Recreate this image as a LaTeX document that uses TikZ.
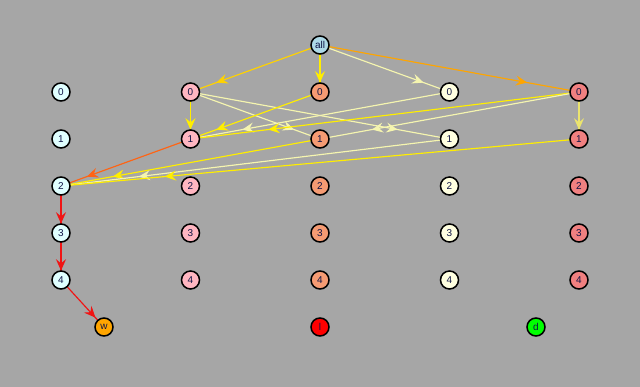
\documentclass[tikz,border=0pt]{standalone}
\usepackage{fontspec}
\setsansfont{Liberation Sans}
\usetikzlibrary{arrows.meta,decorations.markings,backgrounds}
\definecolor{bggray}{RGB}{166,166,166}
\definecolor{txtnavy}{RGB}{15,20,70}
\definecolor{cyanfill}{RGB}{224,255,255}
\definecolor{pinkfill}{RGB}{255,182,193}
\definecolor{salmonfill}{RGB}{245,155,115}
\definecolor{ivoryfill}{RGB}{255,255,224}
\definecolor{coralfill}{RGB}{240,128,128}
\definecolor{allfill}{RGB}{173,216,230}
\definecolor{winfill}{RGB}{255,165,0}
\definecolor{lossfill}{RGB}{255,0,0}
\definecolor{tiefill}{RGB}{0,255,0}
\definecolor{edgegold}{RGB}{255,210,0}
\definecolor{edgeyellow}{RGB}{255,238,0}
\definecolor{edgepale}{RGB}{245,245,175}
\definecolor{edgeorange}{RGB}{255,165,0}
\definecolor{edgekhaki}{RGB}{235,228,110}
\definecolor{edgeburnt}{RGB}{255,100,20}
\definecolor{edgered}{RGB}{240,20,20}
\tikzset{
  state/.style={circle, draw=black, line width=0.45mm, minimum size=5.4mm, inner sep=0pt,
    font=\sffamily\fontsize{8.5}{9}\selectfont, text=txtnavy},
  flow/.style={line width=0.35mm, postaction={decorate},
    decoration={markings, mark=at position 0.8 with {\arrow{Stealth[length=3.4mm,width=3mm,inset=1.2mm]}}}},
}
\newcommand{\flowln}[3]{%
  \draw[flow, #1] (#2.center) -- (#3.center);
}

\begin{document}
\begin{tikzpicture}[x=0.3mm, y=-0.3mm]
    % Root
    \node[state, fill=allfill] (all) at (320,45) {all};
    % Grid of states, one column per colour
    \foreach \col/\clr in {0/cyanfill,1/pinkfill,2/salmonfill,3/ivoryfill,4/coralfill}
      \foreach \row in {0,...,4}
        \node[state, fill=\clr] (n\col\row) at ({61+129.5*\col},{92+47*\row}) {\row};
    % Outcomes
    \node[state, fill=winfill] (win) at (104,327) {w};
    \node[state, fill=lossfill] (loss) at (320,327) {l};
    \node[state, fill=tiefill] (tie) at (536,327) {d};
    % Background and edges behind the nodes
    \begin{scope}[on background layer]
      \fill[bggray] (0,0) rectangle (640,387);
      \flowln{edgegold}{all}{n10}
      \flowln{edgeyellow}{all}{n20}
      \flowln{edgepale}{all}{n30}
      \flowln{edgeorange}{all}{n40}
      \flowln{edgeyellow}{n10}{n11}
      \flowln{edgepale}{n10}{n21}
      \flowln{edgepale}{n10}{n31}
      \flowln{edgeyellow}{n20}{n11}
      \flowln{edgepale}{n30}{n11}
      \flowln{edgeyellow}{n40}{n11}
      \flowln{edgepale}{n40}{n21}
      \flowln{edgekhaki}{n40}{n41}
      \flowln{edgeyellow}{n21}{n02}
      \flowln{edgepale}{n31}{n02}
      \flowln{edgeyellow}{n41}{n02}
      \flowln{edgeburnt}{n11}{n02}
      % Path to the win
      \flowln{edgered}{n02}{n03}
      \flowln{edgered}{n03}{n04}
      \flowln{edgered}{n04}{win}
    \end{scope}
\end{tikzpicture}
\end{document}
